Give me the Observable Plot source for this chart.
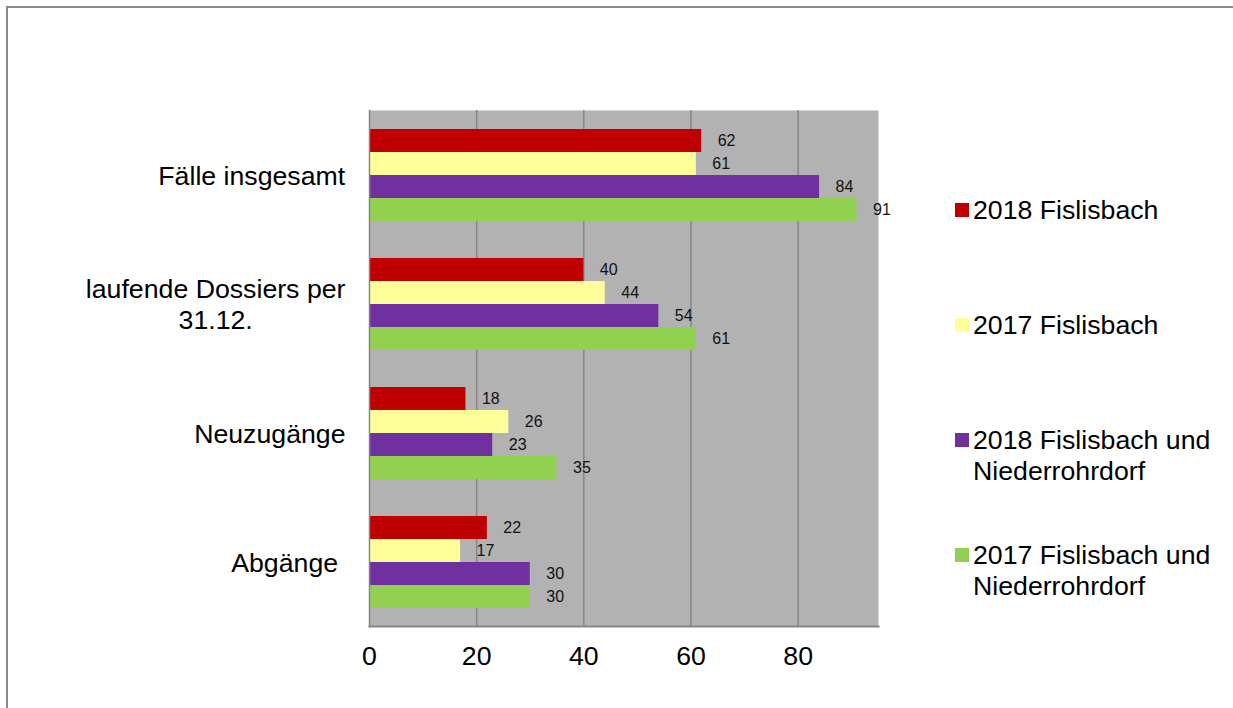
<!DOCTYPE html>
<html>
<head>
<meta charset="utf-8">
<script src="https://cdn.jsdelivr.net/npm/d3@7"></script>
<script src="https://cdn.jsdelivr.net/npm/@observablehq/plot@0.6"></script>
<style>
  html, body { margin: 0; padding: 0; background: #fff; }
  #chart { position: relative; width: 1233px; height: 708px; font-family: "Liberation Sans", Arial, sans-serif; }
  #border { position: absolute; left: 6px; top: 6px; right: 0; bottom: 0; border-left: 2px solid #8a8a8a; border-top: 2px solid #8a8a8a; pointer-events: none; }
  #plot { position: absolute; left: 0; top: 0; }
  #legend { position: absolute; left: 955px; top: 195px; width: 272px; }
  .entry { display: flex; align-items: flex-start; height: 115px; }
  .swatch { width: 14px; height: 14px; margin-top: 8px; margin-right: 4px; flex: none; }
  .label { font-size: 26.7px; line-height: 31px; color: #000; }
</style>
</head>
<body>
<div id="chart">
  <div id="plot"></div>
  <div id="legend"></div>
  <div id="border"></div>
</div>
<script>
// Categories (rows) and the four series shown in each row
const categories = ["Fälle insgesamt", "laufende Dossiers per 31.12.", "Neuzugänge", "Abgänge"];
const series = [
  "2018 Fislisbach",
  "2017 Fislisbach",
  "2018 Fislisbach und Niederrohrdorf",
  "2017 Fislisbach und Niederrohrdorf"
];
const colors = ["#c00000", "#ffff99", "#7030a0", "#92d050"];

// Values per series, in the order of the categories
const v2018F  = [62, 40, 18, 22];
const v2017F  = [61, 44, 26, 17];
const v2018FN = [84, 54, 23, 30];
const v2017FN = [91, 61, 35, 30];

const xTicks = [0, 20, 40, 60, 80];
const gridTicks = [20, 40, 60, 80];

const seriesValues = [v2018F, v2017F, v2018FN, v2017FN];
const rows = [];
categories.forEach((c, i) => {
  series.forEach((s, j) => rows.push({category: c, series: s, value: seriesValues[j][i]}));
});

// Row labels: the long one breaks after "per"; "Abgänge" keeps its trailing space
const categoryLabel = (c) =>
  c === "laufende Dossiers per 31.12." ? "laufende Dossiers per\n31.12." :
  c === "Abgänge" ? "Abgänge " : c;

const grid = "#868686";

const chart = Plot.plot({
  width: 1233,
  height: 708,
  marginLeft: 369,
  marginRight: 355,
  marginTop: 108,
  marginBottom: 81,
  style: {fontFamily: "'Liberation Sans', Arial, sans-serif", background: "transparent"},
  x: {domain: [0, 95]},
  y: {domain: series, axis: null, paddingInner: 0, paddingOuter: 0.78},
  fy: {domain: categories, padding: 0},
  color: {domain: series, range: colors},
  marks: [
    Plot.frame({facet: "super", fill: "#b2b2b2", stroke: "none"}),
    Plot.ruleX(gridTicks, {stroke: grid, strokeWidth: 1.5}),
    Plot.barX(rows, {x: "value", y: "series", fy: "category", fill: "series"}),
    Plot.text(rows, {
      x: "value", y: "series", fy: "category",
      text: (d) => String(d.value),
      textAnchor: "start", dx: 16, fontSize: 16, fill: "#111"
    }),
    Plot.frame({facet: "super", anchor: "left", stroke: grid, strokeWidth: 1.5}),
    Plot.frame({facet: "super", anchor: "bottom", stroke: grid, strokeWidth: 2}),
    Plot.axisX(xTicks, {tickSize: 0, tickPadding: 20, fontSize: 26.7, fill: "#000", label: null}),
    Plot.axisFy({anchor: "left", tickSize: 0, tickPadding: 24, fontSize: 26.7, fill: "#000", label: null, tickFormat: categoryLabel, lineHeight: 1.15})
  ]
});

document.getElementById("plot").appendChild(chart);

// Right-align each category label block while centring its lines within the block
chart.querySelectorAll('[aria-label="fy-axis tick label"] text').forEach((t) => {
  t.setAttributeNS("http://www.w3.org/XML/1998/namespace", "xml:space", "preserve");
  t.style.whiteSpace = "pre";
  const w = t.getBBox().width;
  t.setAttribute("text-anchor", "middle");
  t.setAttribute("transform", (t.getAttribute("transform") || "") + ` translate(${-w / 2},0)`);
});

// Legend to the right of the plot
const legend = document.getElementById("legend");
series.forEach((s, i) => {
  const entry = document.createElement("div");
  entry.className = "entry";
  const sw = document.createElement("div");
  sw.className = "swatch";
  sw.style.background = colors[i];
  const lb = document.createElement("div");
  lb.className = "label";
  lb.textContent = s;
  entry.appendChild(sw);
  entry.appendChild(lb);
  legend.appendChild(entry);
});
</script>
</body>
</html>
